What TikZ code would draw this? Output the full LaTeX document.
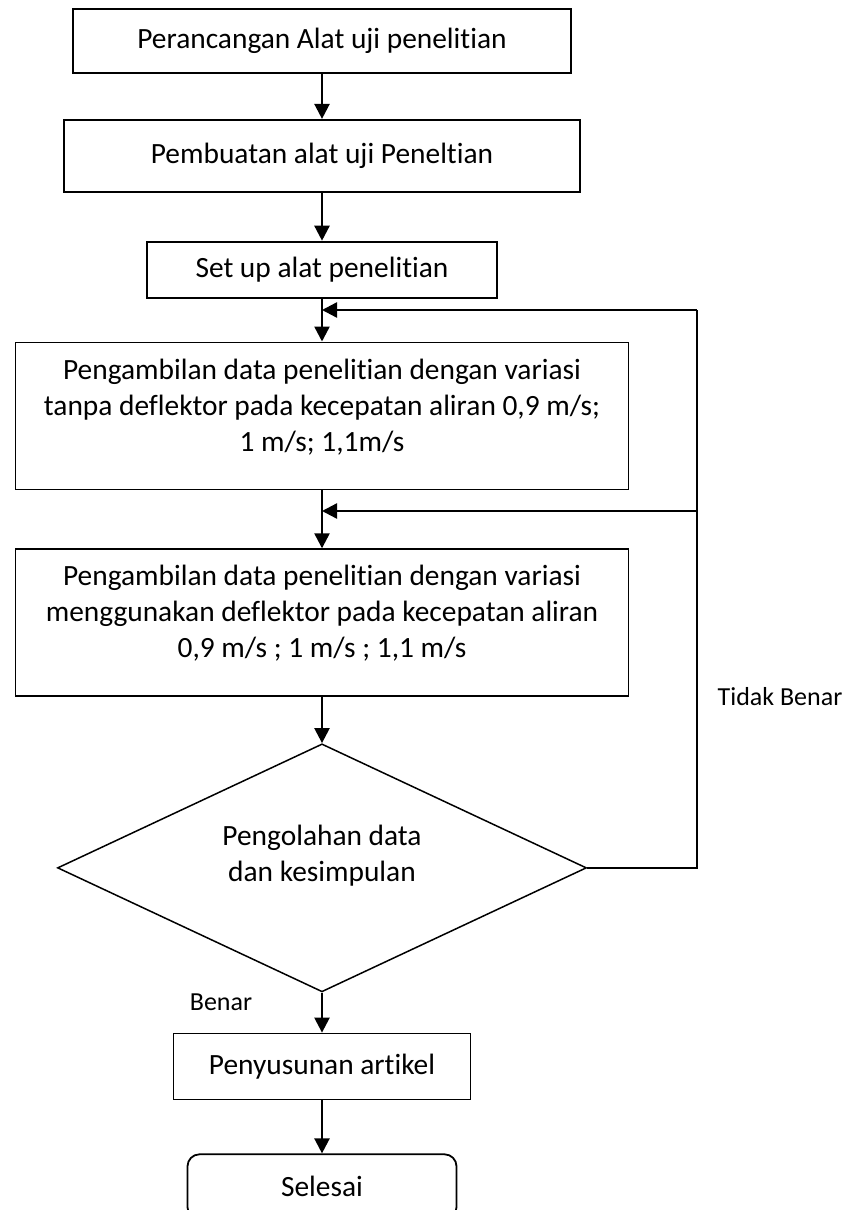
\documentclass[tikz,border=0pt]{standalone}
\usepackage{fontspec}
\setmainfont{Carlito}[Ligatures=NoCommon]
\usepackage{tikz}
\usetikzlibrary{shapes.geometric,arrows.meta,positioning}

\begin{document}
\begin{tikzpicture}[x=1pt,y=-1pt,
    font=\fontsize{29.4}{36}\selectfont,
    box/.style={draw,line width=1.8pt,align=center,inner sep=0pt},
    decision/.style={draw,diamond,line width=1.5pt,align=center,inner sep=0pt,aspect=2.13},
    flow/.style={-{Triangle[length=15pt,width=15pt]},line width=2.4pt},
    back/.style={line width=1.4pt},
    note/.style={font=\fontsize{26}{31}\selectfont}]
    \useasboundingbox (0,0) rectangle (860,1210);

    \node [box,minimum width=498pt,minimum height=64pt] (design) at (322,41) {Perancangan Alat uji penelitian};
    \node [box,minimum width=516pt,minimum height=72pt,below=45pt of design] (build) {Pembuatan alat uji Peneltian};
    \node [box,minimum width=350pt,minimum height=56pt,below=48pt of build] (setup) {Set up alat penelitian};
    \node [box,minimum width=613pt,minimum height=147pt,text depth=22pt,below=43pt of setup] (dataA)
      {Pengambilan data penelitian dengan variasi\\tanpa deflektor pada kecepatan aliran 0,9 m/s;\\1 m/s; 1,1m/s};
    \node [box,minimum width=613pt,minimum height=147pt,text depth=22pt,below=58pt of dataA] (dataB)
      {Pengambilan data penelitian dengan variasi\\menggunakan deflektor pada kecepatan aliran\\0,9 m/s ; 1 m/s ; 1,1 m/s};
    \node [decision,minimum width=529pt,minimum height=248pt,text depth=30pt,below=46pt of dataB] (check)
      {Pengolahan data\\dan kesimpulan};
    \node [box,minimum width=297pt,minimum height=66pt,below=40pt of check] (article) {Penyusunan artikel};
    \node [box,rounded corners=12pt,minimum width=269pt,minimum height=65pt,below=53pt of article] (finish) {Selesai};

    \foreach \a/\b in {design/build,build/setup,setup/dataA,dataA/dataB,dataB/check,check/article,article/finish} {
      \draw [flow] (\a) -- (\b);
    }

    % loop back
    \coordinate (join1) at (322,310);
    \coordinate (join2) at (322,511);
    \coordinate (corner) at (697,310);
    \draw [back] (check.east) -| (corner);
    \draw [flow] (corner) -- (join1);
    \draw [flow] (corner |- join2) -- (join2);

    \node [note] (yes) at (221,1002) {Benar};
    \node [note] (no) at (780,697) {Tidak Benar};
  \end{tikzpicture}
\end{document}
